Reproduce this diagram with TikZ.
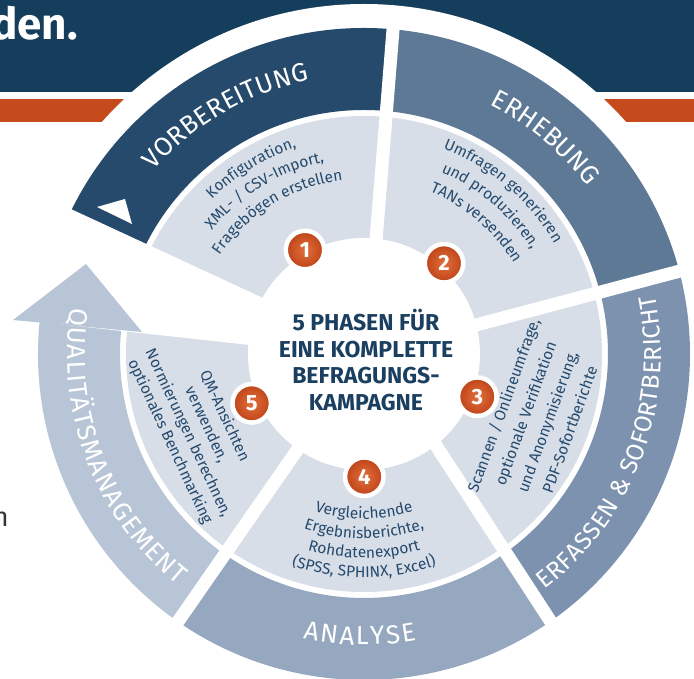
\documentclass[tikz,border=0pt]{standalone}
\usepackage{fontspec}
\setmainfont{Fira Sans}
\usetikzlibrary{decorations.text}
\definecolor{banner}{HTML}{153E5C}
\definecolor{orangebar}{HTML}{C64B1C}
\definecolor{vorb}{HTML}{264A6B}
\definecolor{erh}{HTML}{5E7996}
\definecolor{erf}{HTML}{7C92AE}
\definecolor{ana}{HTML}{95A8BF}
\definecolor{qm}{HTML}{B8C5D6}
\definecolor{lightsec}{HTML}{D8DEE8}
\definecolor{sectext}{HTML}{244A6D}
\definecolor{ctext}{HTML}{1B3F60}
\definecolor{badgeA}{HTML}{E2703C}
\definecolor{badgeB}{HTML}{BE4218}
\definecolor{darktext}{HTML}{333333}
\newcommand\rlf{\fontsize{26}{26}\selectfont\color{white}}
\newcommand\rlfs{\fontsize{24.5}{24.5}\selectfont\color{white}}
\newcommand\secf{\fontsize{15.5}{15.5}\selectfont\color{sectext}}
\newcommand\ringseg[3]{\fill[#1] (#2:244) -- (#2:326) arc[start angle=#2,end angle=#3,radius=326] -- (#3:244) arc[start angle=#3,end angle=#2,radius=244] -- cycle;}
\tikzset{
  gapline/.style={white, line width=13pt},
  badge/.style={circle, inner sep=0pt, minimum size=38.5pt, draw=white, line width=4.5pt,
    inner color=badgeA, outer color=badgeB, text=white, font=\bfseries\fontsize{22}{22}\selectfont},
  ringtext/.style={decorate, decoration={text along path, text align={fit to path}, text={|\rlf|#1}}},
  ringtextsmall/.style={decorate, decoration={text along path, text align={fit to path}, text={|\rlfs|#1}}},
  arctext/.style={decorate, decoration={text along path, text align=center, text={|\secf|#1}}},
  secnode/.style={align=center, text=sectext, inner sep=0pt, font=\fontsize{15.5}{#1}\selectfont}
}
\begin{document}
\begin{tikzpicture}[x=1pt,y=1pt]
\useasboundingbox (-364,-325) rectangle (330,354);
\fill[white] (-364,-325) rectangle (330,354);
% banner
\fill[banner] (-364,262) rectangle (330,354);
\fill[orangebar] (-364,232) rectangle (330,255);
\node[anchor=base west, inner sep=0pt, text=white, font=\bfseries\fontsize{44}{44}\selectfont] (title) at (-373,314) {den.};
\node[anchor=base east, inner sep=0pt, text=darktext, font=\fontsize{27}{27}\selectfont] (cut) at (-355,-173) {n};
\fill[white] (0,0) circle[radius=350];
% outer ring
\ringseg{vorb}{85}{165}
\ringseg{erh}{14.6}{85}
\ringseg{erf}{-55}{14.6}
\ringseg{ana}{-125.3}{-55}
\ringseg{qm}{170}{234.7}
% light sectors
\fill[lightsec] (0,0) circle[radius=238];
% white wedge between phase 1 and phase 5
\fill[white] (-94,52.8) -- (-334,163.9) -- (-364,36.35) -- (-109,8.45) -- cycle;
% gaps
\draw[gapline] (8,64) -- (30.2,339);
\draw[gapline] (86,22.1) -- (336,88.3);
\draw[gapline] (56,-67) -- (201,-289.5);
\draw[gapline] (-54,-77.6) -- (-196,-282);
% centre
\fill[white] (0,0) circle[radius=116];
% arrow head
\fill[qm] (-351,34) -- (-278,90) -- (-222,22) -- cycle;
% triangle
\fill[white] (-267,147) -- (-239,155) -- (-232,130) -- cycle;
% ring labels
\path[ringtext=VORBEREITUNG] (139:279) arc[start angle=139,end angle=101.3,radius=279];
\path[ringtext=ERHEBUNG] (63.2:279) arc[start angle=63.2,end angle=37.3,radius=279];
\path[ringtextsmall={ERFASSEN {\&} SOFORTBERICHT}] (-52.5:297) arc[start angle=-52.5,end angle=11.5,radius=297];
\path[ringtext=ANALYSE] (-102.1:291) arc[start angle=-102.1,end angle=-79.6,radius=291];
\path[ringtext=QUALITÄTSMANAGEMENT] (171:297) arc[start angle=171,end angle=231.2,radius=297];
% sector 1
\path[arctext={Konfiguration,}] (166.3:217) arc[start angle=166.3,end angle=76.3,radius=217];
\path[arctext={XML- / CSV-Import,}] (166.3:196) arc[start angle=166.3,end angle=76.3,radius=196];
\path[arctext={Fragebögen erstellen}] (166.3:175) arc[start angle=166.3,end angle=76.3,radius=175];
% sector 2
\path[arctext={Umfragen generieren}] (94.5:220) arc[start angle=94.5,end angle=4.5,radius=220];
\path[arctext={und produzieren,}] (94.5:197.5) arc[start angle=94.5,end angle=4.5,radius=197.5];
\path[arctext={TANs versenden}] (94.5:175) arc[start angle=94.5,end angle=4.5,radius=175];
% sector 4
\path[arctext={Vergleichende}] (-135:165) arc[start angle=-135,end angle=-45,radius=165];
\path[arctext={Ergebnisberichte,}] (-135:184.5) arc[start angle=-135,end angle=-45,radius=184.5];
\path[arctext={Rohdatenexport}] (-135:204) arc[start angle=-135,end angle=-45,radius=204];
\path[arctext={(SPSS, SPHINX, Excel)}] (-135:223.5) arc[start angle=-135,end angle=-45,radius=223.5];
% sector 3
\node[secnode=23.5, rotate=70] (t3) at (172,-63.5) {Scannen / Onlineumfrage,\\optionale Verifikation\\und Anonymisierung,\\PDF-Sofortberichte};
% sector 5
\node[secnode=20, rotate=-65] (t5) at (-167,-75) {QM-Ansichten\\verwenden,\\Normierungen berechnen,\\optionales Benchmarking};
% centre text
\node[align=center, text=ctext, inner sep=0pt, font=\bfseries\fontsize{23}{26.5}\selectfont] (ctr) at (2,-6) {5 PHASEN FÜR\\EINE KOMPLETTE\\BEFRAGUNGS-\\KAMPAGNE};
% badges
\node[badge] (b1) at (-59,104) {1};
\node[badge] (b2) at (80,90.7) {2};
\node[badge] (b3) at (113.3,-42.7) {3};
\node[badge] (b4) at (0.3,-122.7) {4};
\node[badge] (b5) at (-112.3,-49.3) {5};
\end{tikzpicture}
\end{document}
